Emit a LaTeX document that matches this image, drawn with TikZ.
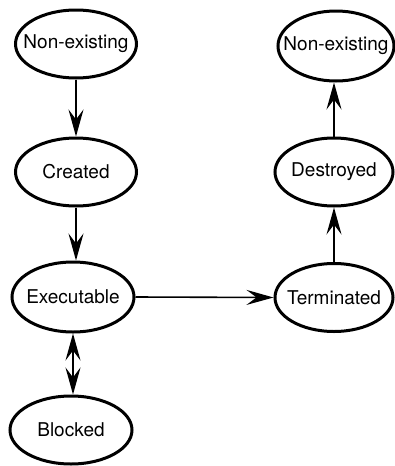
\documentclass[tikz,border=0pt]{standalone}
\usepackage{fontspec}
\setmainfont{TeX Gyre Heros}
\usetikzlibrary{arrows.meta,shapes.geometric}
\newcommand\ctxt[1]{\makebox[0pt][c]{#1}}
\begin{document}
\begin{tikzpicture}[x=1pt,y=-1pt,
  st/.style={ellipse, draw=black, line width=3pt, inner sep=0pt,
    minimum width=#1, minimum height=68pt,
    font=\fontsize{19}{21}\selectfont},
  st/.default=120pt,
  tip/.style={},
  arr/.style={line width=1.6pt, -{Stealth[length=27pt,width=15pt,inset=10pt]}},
  darr/.style={line width=1.6pt, {Stealth[length=27pt,width=15pt,inset=10pt]}-{Stealth[length=27pt,width=15pt,inset=10pt]}}
]
\useasboundingbox (0,0) rectangle (395,466);
\node[st=121pt] (ne1) at (76,44) {\ctxt{Non-existing}};
\node[st=121pt] (cr) at (76,172) {\ctxt{Created}};
\node[st=122pt, minimum height=70pt] (ex) at (73,297) {\ctxt{Executable}};
\node[st=122pt] (bl) at (71,430) {\ctxt{Blocked}};
\node[st=116pt, minimum height=70pt] (ne2) at (336,46) {\ctxt{Non-existing}};
\node[st=118pt] (de) at (334,172) {\ctxt{Destroyed}};
\node[st=118pt] (te) at (334,297.5) {\ctxt{Terminated}};
\draw[arr] (ne1.south) -- (cr.north);
\draw[arr] (cr.south) -- (cr.south |- ex.north);
\draw[darr] (ex.south) -- (ex.south |- bl.north);
\draw[arr] (ex.east) -- (te.west);
\draw[arr] (te.north) -- (de.south);
\draw[arr] (de.north) -- (de.north |- ne2.south);
\end{tikzpicture}
\end{document}
